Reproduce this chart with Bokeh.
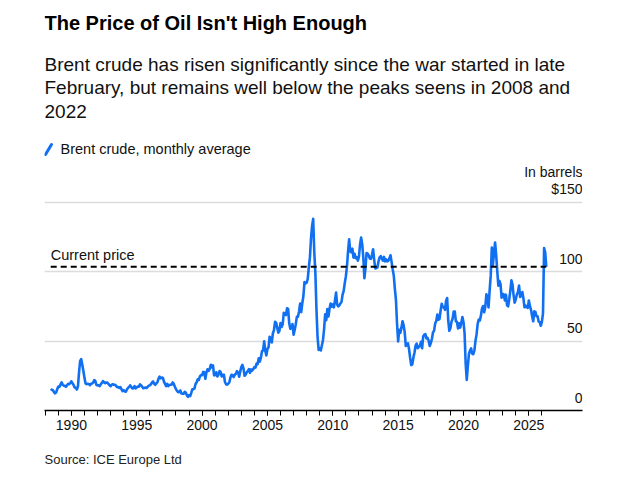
import numpy as np
from bokeh.plotting import figure
from bokeh.models import Range1d, FixedTicker, Label, Arrow, Title
from bokeh.core.properties import value
from bokeh.embed import file_html
from bokeh.resources import INLINE

# Brent crude, monthly average ($ per barrel), from June 1988
start_year, start_month = 1988, 6

brent_1988_89 = [15.5, 14.9, 14.6, 13.3, 12.4, 13.0, 15.4,
                 17.2, 16.9, 18.7, 20.3, 18.6, 17.9, 17.8, 17.0, 18.2, 19.2, 18.9, 19.8]

brent_1990s = [
    21.0, 19.6, 18.4, 16.5, 16.3, 15.1, 17.2, 27.2, 35.5, 37.0, 33.0, 28.4,   # 1990
    23.5, 19.5, 19.0, 19.2, 19.1, 18.2, 19.3, 19.5, 20.2, 21.9, 21.2, 18.4,   # 1991
    18.1, 18.1, 17.6, 18.9, 19.9, 21.2, 20.2, 19.7, 20.2, 20.1, 19.1, 18.2,   # 1992
    17.5, 18.6, 18.9, 18.6, 18.5, 17.8, 16.8, 16.8, 16.3, 16.8, 15.3, 13.9,   # 1993
    14.7, 13.8, 13.5, 15.1, 16.3, 17.0, 18.1, 16.8, 15.9, 16.1, 17.6, 15.9,   # 1994
    16.7, 17.3, 17.1, 18.8, 18.2, 17.1, 16.0, 16.2, 16.6, 16.2, 17.0, 17.9,   # 1995
    18.1, 18.9, 20.2, 20.9, 19.2, 18.5, 19.6, 20.5, 22.9, 24.4, 23.2, 23.8,   # 1996
    23.5, 20.8, 19.2, 17.6, 19.2, 17.6, 18.4, 18.6, 18.5, 20.2, 19.2, 17.1,   # 1997
    15.4, 14.1, 13.2, 13.4, 14.4, 12.2, 12.1, 12.0, 13.4, 12.9, 11.0, 9.8,    # 1998
    11.1, 10.3, 12.5, 15.3, 15.3, 15.9, 19.1, 20.3, 22.5, 22.0, 24.6, 25.5,   # 1999
]

brent_2000s = [
    25.5, 27.8, 27.5, 22.8, 27.6, 29.7, 28.5, 30.0, 32.9, 31.1, 32.5, 25.3,   # 2000
    25.6, 27.5, 24.5, 25.7, 28.4, 27.7, 24.5, 25.8, 25.7, 20.5, 18.9, 18.6,   # 2001
    19.4, 20.3, 23.7, 25.7, 25.4, 24.1, 25.7, 26.4, 28.3, 27.5, 24.3, 28.0,   # 2002
    31.2, 32.8, 30.3, 25.0, 25.8, 27.6, 28.4, 29.8, 27.1, 29.6, 28.8, 29.8,   # 2003
    31.2, 30.9, 33.8, 33.4, 37.6, 35.2, 38.2, 42.7, 43.2, 49.8, 43.1, 39.7,   # 2004
    44.3, 45.5, 53.1, 51.9, 49.0, 55.6, 57.9, 63.9, 63.1, 59.5, 56.0, 57.4,   # 2005
    63.0, 60.2, 62.1, 70.3, 69.8, 68.7, 73.6, 73.2, 62.8, 58.8, 59.4, 62.3,   # 2006
    54.6, 58.0, 62.1, 67.4, 67.5, 71.3, 77.0, 70.8, 77.2, 82.4, 92.5, 91.5,   # 2007
    92.0, 94.8, 103.3, 110.4, 123.9, 133.1, 138.0, 113.9, 99.1, 72.8, 53.2, 43.6,  # 2008
    44.9, 43.2, 47.0, 50.8, 58.6, 69.2, 65.0, 73.0, 67.7, 73.2, 77.0, 74.7,   # 2009
]

brent_2010s = [
    76.4, 74.3, 79.3, 84.9, 76.2, 75.0, 75.6, 77.1, 78.2, 83.5, 86.1, 91.8,   # 2010
    96.5, 103.7, 114.6, 123.3, 114.5, 113.9, 116.5, 110.1, 112.8, 109.6, 110.5, 107.9,  # 2011
    110.7, 119.3, 124.5, 119.8, 110.3, 95.2, 102.6, 113.4, 113.0, 111.5, 109.5, 109.2,  # 2012
    112.3, 116.1, 108.5, 102.3, 102.6, 102.9, 107.4, 110.3, 111.2, 109.5, 107.9, 110.6,  # 2013
    107.4, 108.8, 107.4, 107.8, 109.5, 111.8, 106.8, 101.6, 97.1, 87.4, 79.4, 62.3,     # 2014
    49.8, 58.1, 55.9, 59.5, 64.3, 61.5, 56.6, 46.5, 47.6, 48.4, 44.3, 38.0,   # 2015
    32.7, 33.2, 38.2, 41.6, 46.7, 48.2, 44.9, 45.8, 46.6, 49.5, 44.8, 53.3,   # 2016
    54.6, 55.0, 51.9, 52.3, 50.3, 46.4, 48.5, 51.7, 56.2, 57.5, 62.7, 64.4,   # 2017
    69.1, 65.3, 66.0, 72.1, 76.9, 74.4, 74.3, 72.5, 78.9, 81.0, 64.8, 57.4,   # 2018
    59.4, 64.0, 66.1, 71.2, 71.3, 64.2, 63.9, 59.0, 62.8, 59.7, 63.2, 67.3,   # 2019
]

brent_2020s = [
    63.6, 55.5, 33.7, 22.0, 32.1, 40.8, 43.2, 44.7, 40.9, 40.5, 43.2, 50.2,   # 2020
    54.8, 62.3, 65.4, 64.8, 68.3, 73.4, 75.2, 70.8, 74.5, 83.7, 81.1, 74.2,   # 2021
    86.5, 97.1, 117.3, 104.6, 113.3, 121.0, 111.9, 100.4, 89.8, 93.3, 90.9, 81.3,  # 2022
    83.9, 83.5, 79.2, 83.4, 75.7, 75.0, 80.1, 86.2, 93.7, 90.6, 82.9, 77.6,   # 2023
    80.1, 83.5, 85.4, 89.9, 81.8, 82.6, 85.3, 80.9, 74.3, 75.6, 74.4, 73.9,   # 2024
    79.2, 75.1, 72.5, 67.8, 64.2, 71.4, 71.0, 67.9, 67.9, 64.0, 63.6, 61.0,   # 2025
    64.0, 70.0, 117.0, 114.0, 103.5,                                          # 2026
]

current_price = 103.5

year_ticks = [1990, 1995, 2000, 2005, 2010, 2015, 2020, 2025]
year_minor_ticks = list(range(1988, 2027))
price_ticks = [0, 50, 100, 150]
price_tick_labels = ["0", "50", "100", "$150"]

prices = np.array(brent_1988_89 + brent_1990s + brent_2000s + brent_2010s + brent_2020s)
months = np.arange(len(prices))
t = start_year + (start_month - 1 + months) / 12.0

FONT = "Liberation Sans"
BLUE = "#1170f2"
INK = "#111111"

W, H = 617, 491
LEFT, RIGHT, BOTTOM = 44, 582, 410        # plot frame edges, canvas px (frame runs to the top)
PX_PER_UNIT = 250 / 180                    # vertical pixels per dollar
x0, x1 = 1987.942, 2029.105
y0, y1 = 0, BOTTOM / PX_PER_UNIT

p = figure(width=W, height=H, x_range=Range1d(x0, x1), y_range=Range1d(y0, y1),
           output_backend="svg", toolbar_location=None,
           min_border_left=LEFT, min_border_right=W - RIGHT,
           min_border_top=0, min_border_bottom=H - BOTTOM)
p.outline_line_color = None
p.background_fill_color = "white"
p.border_fill_color = "white"


def cx(px):
    """canvas x pixel -> data x"""
    return x0 + (px - LEFT) / (RIGHT - LEFT) * (x1 - x0)


def cy(py):
    """canvas y pixel -> data y"""
    return (BOTTOM - py) / PX_PER_UNIT


# axes and grid
p.yaxis.visible = False
p.xgrid.visible = False
p.ygrid.ticker = FixedTicker(ticks=price_ticks[1:])
p.ygrid.grid_line_color = "#dcdcdc"
p.ygrid.grid_line_width = 1.5

ax = p.xaxis[0]
ax.ticker = FixedTicker(ticks=year_ticks, minor_ticks=year_minor_ticks)
ax.axis_line_color = "black"
ax.axis_line_width = 1.5
ax.major_tick_line_color = "black"
ax.minor_tick_line_color = "black"
ax.major_tick_in = 0
ax.minor_tick_in = 0
ax.major_tick_out = 5
ax.minor_tick_out = 5
ax.major_label_text_font = FONT
ax.major_label_text_font_size = "14px"
ax.major_label_text_color = INK
ax.major_label_standoff = 4

# price labels sitting on the grid lines at the right edge
p.text(x=[x1] * len(price_ticks), y=price_ticks, text=price_tick_labels,
       text_align="right", text_baseline="alphabetic", y_offset=-13,
       text_font=value(FONT), text_font_size="14px", text_color=INK)
p.text(x=[x1], y=[price_ticks[-1]], text=["In barrels"],
       text_align="right", text_baseline="alphabetic", y_offset=-30,
       text_font=value(FONT), text_font_size="14px", text_color=INK)

# series
p.line(t, prices, line_color=BLUE, line_width=2.6, line_join="round")

# current price reference
p.line([t[0], t[-1]], [current_price, current_price], line_color="black",
       line_width=2, line_dash="6 4")
p.text(x=[t[0]], y=[current_price], text=["Current price"],
       text_align="left", text_baseline="alphabetic", y_offset=-12,
       text_font=value(FONT), text_font_size="14.5px", text_color=INK)

# headline, dek and legend
p.add_layout(Label(x=cx(44), y=cy(22), text="The Price of Oil Isn't High Enough",
                   text_font=FONT, text_font_style="bold", text_font_size="20px",
                   text_baseline="alphabetic", text_color="black"))
dek = ["Brent crude has risen significantly since the war started in late",
       "February, but remains well below the peaks seens in 2008 and",
       "2022"]
for i, line in enumerate(dek):
    p.add_layout(Label(x=cx(44), y=cy(64 + 23.3 * i), text=line,
                       text_font=FONT, text_font_size="19px",
                       text_baseline="alphabetic", text_color=INK))

p.add_layout(Arrow(x_start=cx(45), y_start=cy(154), x_end=cx(51), y_end=cy(144),
                   end=None, line_color=BLUE, line_width=3, line_cap="round"))
p.add_layout(Label(x=cx(60), y=cy(148), text="Brent crude, monthly average",
                   text_font=FONT, text_font_size="14.5px",
                   text_baseline="alphabetic", text_color=INK))

# source line under the axis
p.add_layout(Title(text="Source: ICE Europe Ltd", align="left",
                   text_font=FONT, text_font_size="13px", text_font_style="normal",
                   text_color="#222222", standoff=35), "below")

open("out.html", "w").write(file_html(p, INLINE))
